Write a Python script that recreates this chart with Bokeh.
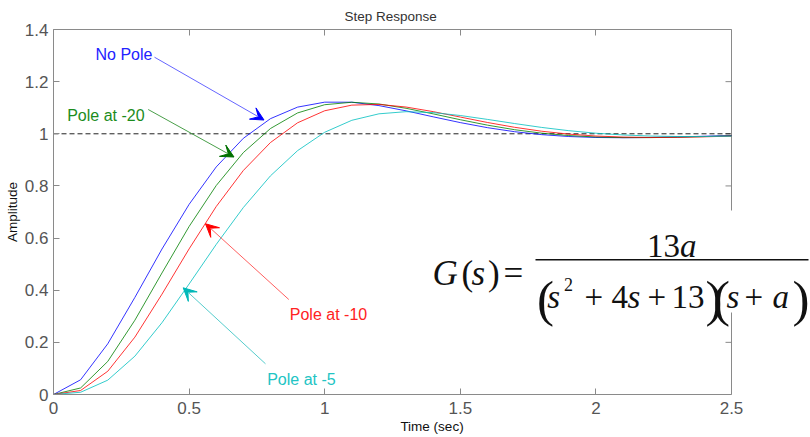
from bokeh.plotting import figure
from bokeh.models import (Range1d, FixedTicker, LinearAxis, NumeralTickFormatter,
                          CustomJSTickFormatter, Label, Arrow, VeeHead, BoxAnnotation)
from bokeh.embed import file_html
from bokeh.resources import INLINE

# ---------------- data ----------------
time_s = [0.0, 0.1, 0.2, 0.3, 0.4, 0.5, 0.6, 0.7, 0.8, 0.9, 1.0, 1.1, 1.2,
          1.3, 1.4, 1.5, 1.6, 1.7, 1.8, 1.9, 2.0, 2.1, 2.2, 2.3, 2.4, 2.5]
no_pole = [0.0, 0.0565, 0.1944, 0.3723, 0.5580, 0.7293, 0.8729, 0.9826, 1.0580,
           1.1023, 1.1213, 1.1211, 1.1081, 1.0880, 1.0651, 1.0429, 1.0235, 1.0080,
           0.9967, 0.9895, 0.9858, 0.9848, 0.9858, 0.9879, 0.9906, 0.9934]
pole_20 = [0.0, 0.0251, 0.1267, 0.2848, 0.4662, 0.6444, 0.8015, 0.9279, 1.0202,
           1.0800, 1.1115, 1.1209, 1.1143, 1.0978, 1.0764, 1.0539, 1.0332, 1.0157,
           1.0024, 0.9932, 0.9877, 0.9854, 0.9853, 0.9869, 0.9893, 0.9921]
pole_10 = [0.0, 0.0154, 0.0891, 0.2200, 0.3848, 0.5585, 0.7210, 0.8592, 0.9664,
           1.0422, 1.0883, 1.1099, 1.1127, 1.1026, 1.0850, 1.0642, 1.0434, 1.0249,
           1.0098, 0.9987, 0.9914, 0.9874, 0.9860, 0.9866, 0.9884, 0.9909]
pole_5 = [0.0, 0.0086, 0.0550, 0.1470, 0.2754, 0.4238, 0.5756, 0.7171, 0.8387,
          0.9354, 1.0058, 1.0517, 1.0766, 1.0848, 1.0812, 1.0701, 1.0552, 1.0393,
          1.0244, 1.0119, 1.0022, 0.9955, 0.9914, 0.9896, 0.9895, 0.9906]
x_ticks = [0, 0.5, 1, 1.5, 2, 2.5]
y_ticks = [0, 0.2, 0.4, 0.6, 0.8, 1, 1.2, 1.4]
reference_level = 1.0

series_names = ["No Pole", "Pole at -20", "Pole at -10", "Pole at -5"]

# ---------------- layout ----------------
W, H = 810, 437
ML, MR, MT, MB = 53, 0, 29, 43
FW, FH = W - ML - MR, H - MT - MB
X_LO, X_HI = x_ticks[0], x_ticks[-1]
Y_LO, Y_HI = y_ticks[0], y_ticks[-1]
SX = 678 / (X_HI - X_LO)          # pixels per x unit inside the axes box
SY = FH / (Y_HI - Y_LO)
X_MAX = X_LO + FW / SX            # frame extends right of the box for the formula
PAGE = 0


def dx(px):
    return X_LO + (px - PAGE - ML) / SX


def dy(py):
    return Y_LO + (PAGE + MT + FH - py) / SY


GRAY = "#8a8a8a"
SANS = "Liberation Sans"
SERIF = "Liberation Serif"

p = figure(width=W, height=H, x_range=Range1d(X_LO, X_MAX), y_range=Range1d(Y_LO, Y_HI),
           output_backend="svg", toolbar_location=None,
           min_border_left=ML, min_border_right=MR, min_border_top=MT,
           min_border_bottom=MB, background_fill_color="white",
           border_fill_color="white", outline_line_color=None)
p.grid.visible = False

p.title.text = "Step Response"
p.title.align = "left"
p.title.offset = 291
p.title.text_font = SANS
p.title.text_font_size = "13.5px"
p.title.text_font_style = "normal"
p.title.text_color = "#333333"
p.title.standoff = 12


def style_axis(ax, ticks):
    ax.ticker = FixedTicker(ticks=ticks)
    ax.formatter = NumeralTickFormatter(format="0.[0]")
    ax.major_tick_in = 6
    ax.major_tick_out = 0
    ax.minor_tick_in = 0
    ax.minor_tick_out = 0
    ax.axis_line_color = GRAY
    ax.major_tick_line_color = GRAY
    ax.major_label_text_font = SANS
    ax.major_label_text_color = "#555555"
    ax.major_label_text_font_size = "17px"


xa = p.xaxis[0]
ya = p.yaxis[0]
style_axis(xa, x_ticks)
style_axis(ya, y_ticks)
xa.bounds = (X_LO, X_HI)
xa.major_label_standoff = 7
ya.major_label_standoff = 5
xa.axis_label = "Time (sec)"
ya.axis_label = "Amplitude"
for ax in (xa, ya):
    ax.axis_label_text_font = SANS
    ax.axis_label_text_font_size = "13.5px"
    ax.axis_label_text_font_style = "normal"
    ax.axis_label_text_color = "#111111"
xa.axis_label_standoff = 2
ya.axis_label_standoff = 2

top_ax = LinearAxis()
style_axis(top_ax, x_ticks)
top_ax.bounds = (X_LO, X_HI)
top_ax.formatter = CustomJSTickFormatter(code="return ''")
top_ax.major_label_text_font_size = "8px"
top_ax.major_label_standoff = 0
p.add_layout(top_ax, "above")

# right edge of the axes box and its inward ticks
p.segment(x0=[X_HI], y0=[Y_LO], x1=[X_HI], y1=[Y_HI], line_color=GRAY, line_width=1)
tick_len = 6 / SX
p.segment(x0=[X_HI - tick_len] * len(y_ticks), y0=y_ticks,
          x1=[X_HI] * len(y_ticks), y1=y_ticks, line_color=GRAY, line_width=1)

# dashed steady-state level
p.line(x=[X_LO, X_HI], y=[reference_level, reference_level], line_color="#222222",
       line_dash="5 3", line_width=1)

line_colors = ["#0000ff", "#008000", "#ff0000", "#00bfbf"]
for ys, c in zip([no_pole, pole_20, pole_10, pole_5], line_colors):
    p.line(time_s, ys, line_color=c, line_width=1, line_alpha=0.8)

# arrows + callout labels (page pixel positions)
callouts = [
    (series_names[0], 95, 53.5, (154, 56.7), (263.5, 119.5), "#2222ff", "#6666ff", "#0000ff"),
    (series_names[1], 66.7, 115, (147.7, 109), (233.5, 156.5), "#1c8c1c", "#4a9f4a", "#007000"),
    (series_names[2], 289.3, 314, (288.3, 299), (205, 223.3), "#ff2222", "#ff6060", "#ff0000"),
    (series_names[3], 266.7, 379, (265, 363.3), (182.7, 287.3), "#22c4c4", "#55cccc", "#00b8b8"),
]
for txt, tx, ty, s, e, tc, lc, hc in callouts:
    p.add_layout(Arrow(end=VeeHead(size=13, fill_color=hc, line_color=hc, line_width=1),
                       x_start=dx(s[0]), y_start=dy(s[1]), x_end=dx(e[0]), y_end=dy(e[1]),
                       line_color=lc, line_width=1))
    p.add_layout(Label(x=dx(tx), y=dy(ty), text=txt, text_font=SANS,
                       text_font_size="16px", text_color=tc,
                       text_baseline="alphabetic", text_align="left"))

# formula panel (white patch hides the box edge behind it)
p.add_layout(BoxAnnotation(left=dx(425), right=X_MAX, top=dy(210), bottom=dy(312),
                           fill_color="white", fill_alpha=1.0, line_color=None,
                           level="overlay"))

FS = "33px"
BIG = "51px"
pieces = [
    ("G", 432, 272.5, "35px", "italic", "left"),
    ("(", 461, 272.5, "35px", "normal", "left"),
    ("s", 471, 272.5, "35px", "italic", "left"),
    (")", 487.5, 272.5, "35px", "normal", "left"),
    ("=", 503, 272.5, "35px", "normal", "left"),
    ("13", 646.5, 245, FS, "normal", "left"),
    ("a", 679.5, 245, FS, "italic", "left"),
    ("(", 536.5, 298.3, BIG, "normal", "left"),
    ("s", 546.7, 296.7, FS, "italic", "left"),
    ("2", 563.5, 284, "18px", "normal", "left"),
    ("+", 584, 296.7, FS, "normal", "left"),
    ("4", 611, 296.7, FS, "normal", "left"),
    ("s", 627, 296.7, FS, "italic", "left"),
    ("+", 647, 296.7, FS, "normal", "left"),
    ("13", 671, 296.7, FS, "normal", "left"),
    (")", 705, 298.3, BIG, "normal", "left"),
    ("(", 712.5, 298.3, BIG, "normal", "left"),
    ("s", 726, 296.7, FS, "italic", "left"),
    ("+", 744, 296.7, FS, "normal", "left"),
    ("a", 772, 296.7, FS, "italic", "left"),
    (")", 809, 298.3, BIG, "normal", "right"),
]
p.add_layout(Arrow(start=None, end=None, x_start=dx(535), y_start=dy(259.3),
                   x_end=dx(808), y_end=dy(259.3), line_color="#111111",
                   line_width=1.6, level="overlay"))
for t, px, py, fs, st, al in pieces:
    p.add_layout(Label(x=dx(px), y=dy(py), text=t, text_font=SERIF, text_font_size=fs,
                       text_font_style=st, text_color="#111111",
                       text_baseline="alphabetic", text_align=al, level="overlay"))

open("out.html", "w").write(file_html(p, INLINE))
